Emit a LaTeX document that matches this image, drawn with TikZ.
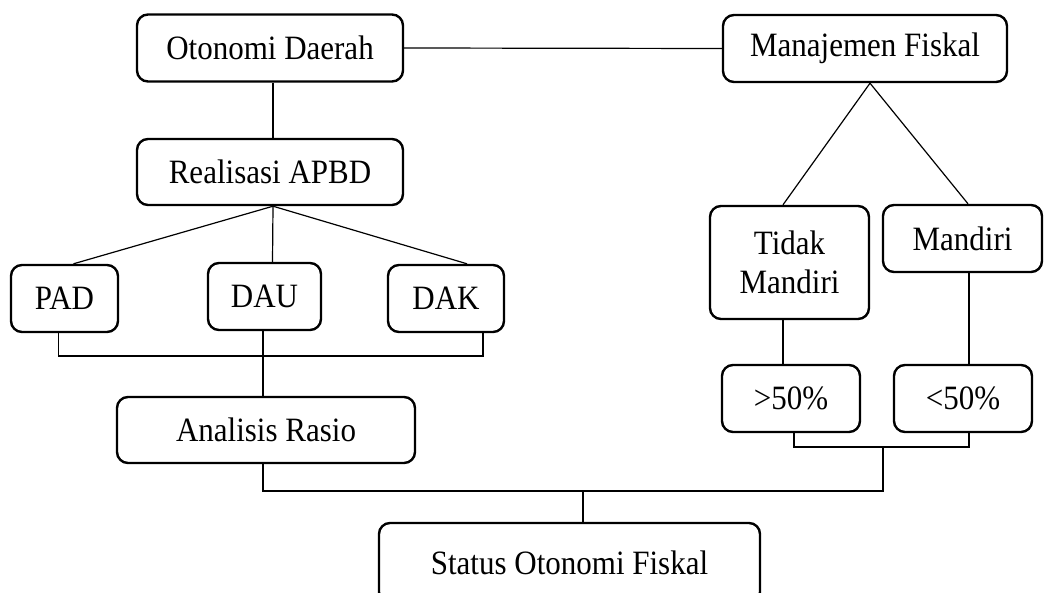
\documentclass[tikz,border=0pt]{standalone}
\usepackage{fontspec}
\setmainfont{Liberation Serif}
\newcommand{\vtxt}[1]{\scalebox{1}[1.1]{#1}}
\begin{document}
\begin{tikzpicture}[x=1pt,y=-1pt,
  box/.style={draw, line width=2.4pt, rounded corners=11pt, inner sep=0pt, align=center,
              font=\fontsize{31}{38}\selectfont},
  conn/.style={line width=1.2pt}]
\useasboundingbox (0,0) rectangle (1046,593);
\clip (0,0) rectangle (1046,593);
% nodes
\node[box, minimum width=266pt, minimum height=67pt] (od)  at (270,48)    {\vtxt{Otonomi Daerah}};
\node[box, minimum width=284pt, minimum height=67pt] (mf)  at (865,48.5)  {\vtxt{Manajemen Fiskal}};
\node[box, minimum width=266pt, minimum height=66pt] (ra)  at (270,172)   {\vtxt{Realisasi APBD}};
\node[box, minimum width=107pt, minimum height=67pt] (pad) at (64.5,298.5){\vtxt{PAD}};
\node[box, minimum width=113pt, minimum height=67pt] (dau) at (264.5,296.5){\vtxt{DAU}};
\node[box, minimum width=116pt, minimum height=67pt] (dak) at (446,298.5) {\vtxt{DAK}};
\node[box, minimum width=298pt, minimum height=66pt] (ar)  at (266,430)   {\vtxt{Analisis Rasio}};
\node[box, minimum width=159pt, minimum height=113pt] (tm) at (789.5,262.5){\vtxt{Tidak}\\[1pt]\vtxt{Mandiri}};
\node[box, minimum width=159pt, minimum height=67pt] (ma)  at (962.5,238.5){\vtxt{Mandiri}};
\node[box, minimum width=138pt, minimum height=67pt] (g50) at (791,398.5) {\vtxt{>50\%}};
\node[box, minimum width=138pt, minimum height=67pt] (l50) at (963,398.5) {\vtxt{<50\%}};
\node[box, minimum width=381pt, minimum height=80pt] (st)  at (569.5,563) {\vtxt{Status Otonomi Fiskal}};
% junction coordinates
\coordinate (b1) at (263,356);
\coordinate (jr) at (883,447);
\coordinate (jb) at (883,491);
\coordinate (js) at (583,491);
% connectors
\draw[conn] (od.east) -- (mf.west);
\draw[conn] ([xshift=3pt]od.south) -- ([xshift=3pt]ra.north);
\draw[conn] ([xshift=3pt]ra.south) -- ([xshift=9pt]pad.north);
\draw[conn] ([xshift=3pt]ra.south) -- ([xshift=8pt]dau.north);
\draw[conn] ([xshift=3pt]ra.south) -- ([xshift=21pt]dak.north);
\draw[conn] ([xshift=-6pt]pad.south) |- (b1) -| ([xshift=37pt]dak.south);
\draw[conn] ([xshift=-1.5pt]dau.south) -- (b1) -- (b1 |- ar.north);
\draw[conn] (b1 |- ar.south) |- (jb) -- (jr);
\draw[conn] (js) -- (js |- st.north);
\draw[conn] ([xshift=5pt]mf.south) -- ([xshift=-6.5pt]tm.north);
\draw[conn] ([xshift=5pt]mf.south) -- ([xshift=5.5pt]ma.north);
\draw[conn] ([xshift=-6.5pt]tm.south) -- ([xshift=-8pt]g50.north);
\draw[conn] ([xshift=6.5pt]ma.south) -- ([xshift=6pt]l50.north);
\draw[conn] ([xshift=3pt]g50.south) |- (jr) -| ([xshift=6pt]l50.south);
\end{tikzpicture}
\end{document}
